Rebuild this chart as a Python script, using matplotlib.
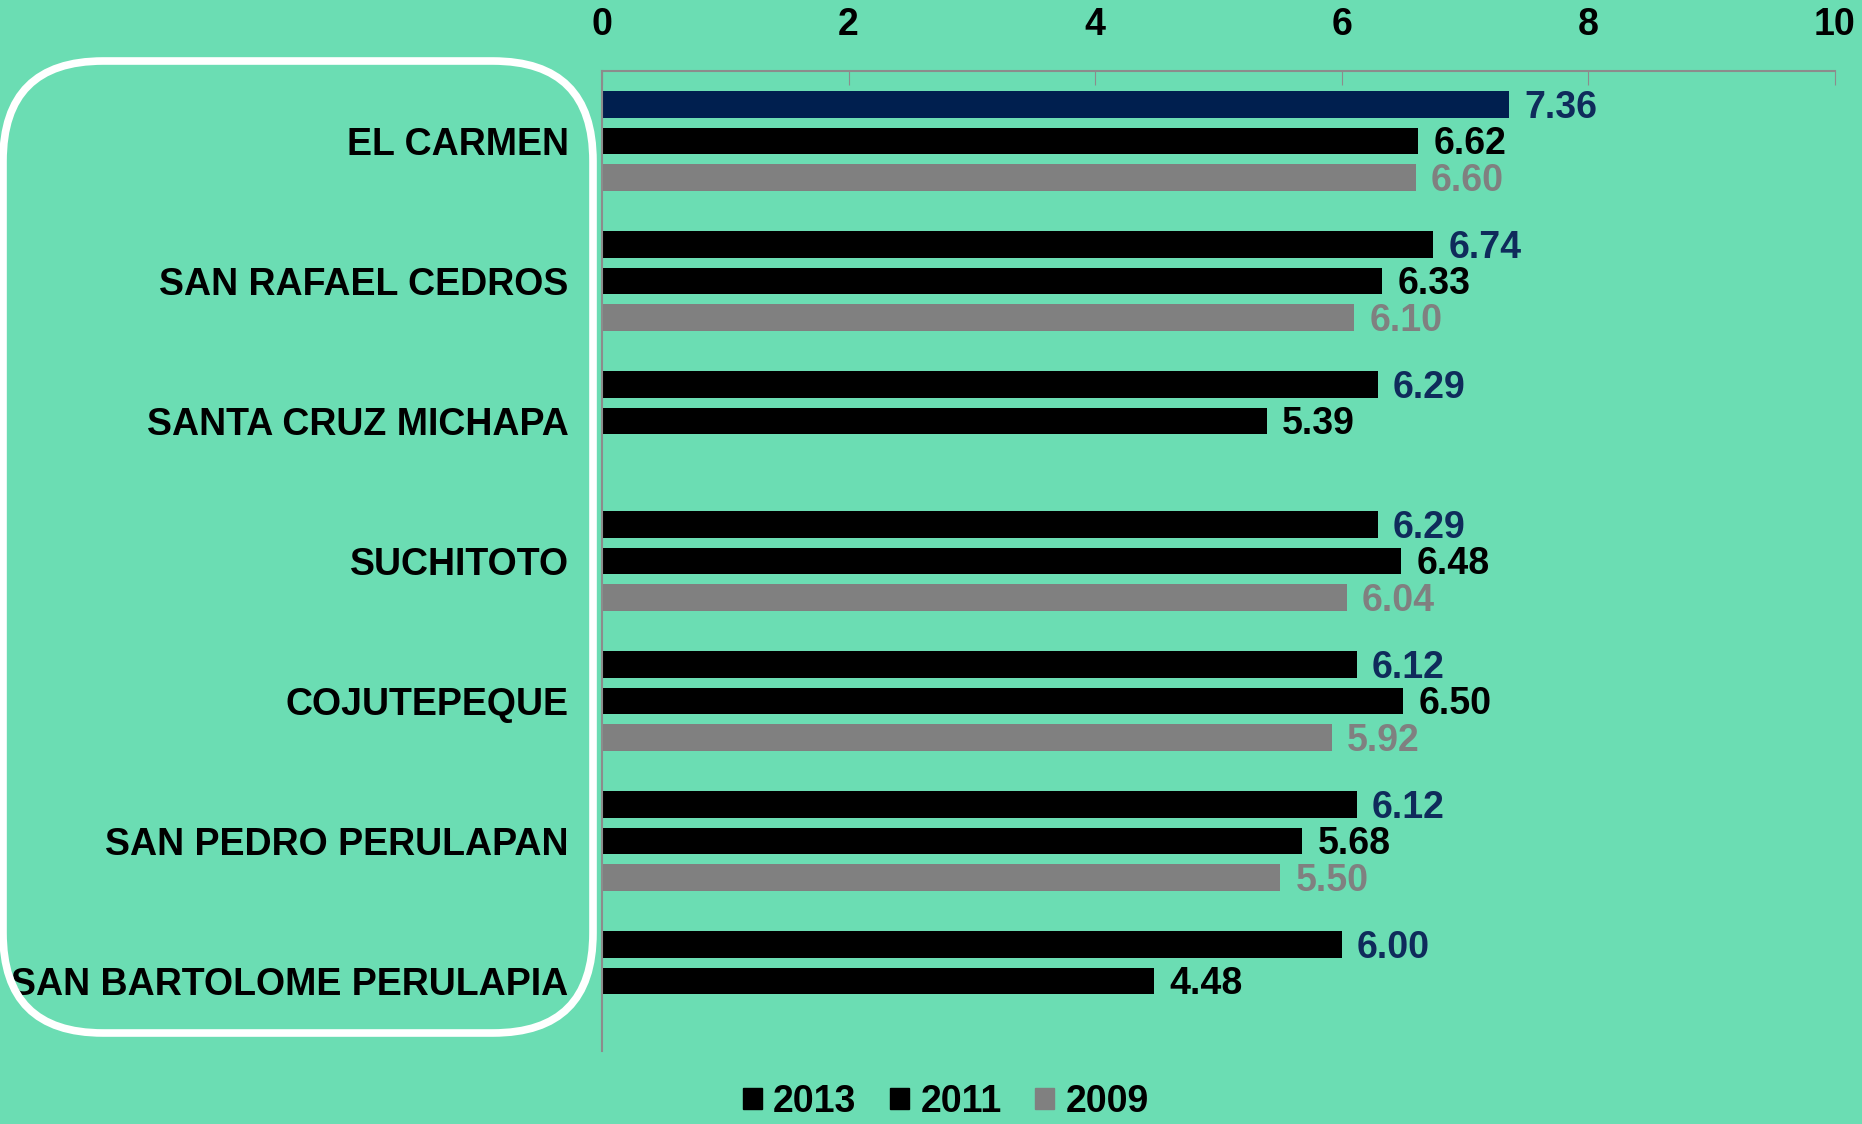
import numpy as np
import matplotlib
matplotlib.use("Agg")
import matplotlib.pyplot as plt
from matplotlib.patches import FancyBboxPatch, Patch

municipios = ["EL CARMEN", "SAN RAFAEL CEDROS", "SANTA CRUZ MICHAPA", "SUCHITOTO",
              "COJUTEPEQUE", "SAN PEDRO PERULAPAN", "SAN BARTOLOME PERULAPIA"]
v2013 = [7.36, 6.74, 6.29, 6.29, 6.12, 6.12, 6.00]
v2011 = [6.62, 6.33, 5.39, 6.48, 6.50, 5.68, 4.48]
v2009 = [6.60, 6.10, np.nan, 6.04, 5.92, 5.50, np.nan]
years = ["2013", "2011", "2009"]
xticks = [0, 2, 4, 6, 8, 10]

bg = "#6BDDB3"
navy = "#001F4F"
navy_txt = "#0F2B5B"
gray = "#808080"

plt.rcParams['font.family'] = ['Liberation Sans', 'DejaVu Sans']
plt.rcParams['font.weight'] = 'bold'

fig = plt.figure(figsize=(18.62, 11.24), dpi=100, facecolor=bg)
ax = fig.add_axes([602/1862, 1 - 1051/1124, (1835 - 602)/1862, (1051 - 71)/1124])
ax.set_facecolor(bg)

y = np.arange(len(municipios))
h = 0.19
off = 0.26

c2013 = [navy] + ["black"] * (len(municipios) - 1)
b1 = ax.barh(y - off, v2013, height=h, color=c2013)
b2 = ax.barh(y, v2011, height=h, color="black")
b3 = ax.barh(y + off, v2009, height=h, color=gray)

fs = 27
for bars, vals, col in [(b1, v2013, navy_txt), (b2, v2011, "black"), (b3, v2009, gray)]:
    for bar, v in zip(bars, vals):
        if np.isnan(v):
            continue
        ax.annotate(f"{v:.2f}", (v, bar.get_y() + bar.get_height() / 2),
                    xytext=(11, -2.5), textcoords="offset points",
                    va="center", ha="left", color=col, fontsize=fs, fontweight="bold")

ax.set_xlim(0, 10)
ax.set_ylim(len(municipios) - 0.5, -0.5)
ax.set_xticks(xticks)
ax.set_xticklabels([str(t) for t in xticks], fontsize=fs, fontweight="bold")
ax.xaxis.tick_top()
ax.tick_params(axis="x", direction="in", length=10, color="#8C8C8C", pad=20)
ax.set_yticks(y)
ax.set_yticklabels(municipios, fontsize=fs, fontweight="bold")
ax.tick_params(axis="y", length=0, pad=24)

for s in ["right", "bottom"]:
    ax.spines[s].set_visible(False)
for s in ["top", "left"]:
    ax.spines[s].set_color("#8C8C8C")
    ax.spines[s].set_linewidth(1.5)

# white rounded frame around the category labels
box = FancyBboxPatch((0.03 + 1.0, 0.91 + 1.0), 5.9 - 2.0, 9.72 - 2.0,
                     boxstyle="round,pad=1.0", transform=fig.dpi_scale_trans,
                     facecolor="none", edgecolor="white", linewidth=5.5, zorder=0)
fig.patches.append(box)

handles = [Patch(color="black"), Patch(color="black"), Patch(color=gray)]
leg = fig.legend(handles, years, loc="center", bbox_to_anchor=(0.508, 0.02),
                 ncol=3, frameon=False, handlelength=0.5, handleheight=0.5,
                 handletextpad=0.3, columnspacing=0.9,
                 prop={"size": fs, "weight": "bold"})

fig.savefig("out.png", dpi=100, facecolor=bg)
